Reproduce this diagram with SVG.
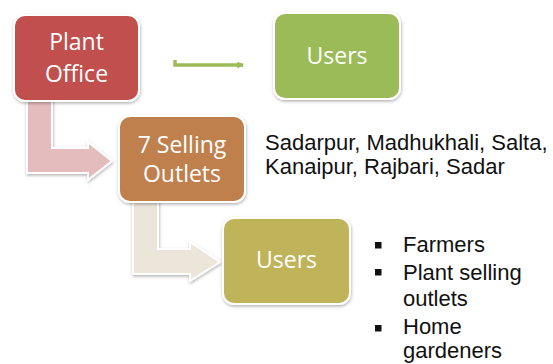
<svg xmlns="http://www.w3.org/2000/svg" width="553" height="364" viewBox="0 0 553 364">
  <defs>
    <filter id="shadow" x="-10%" y="-10%" width="125%" height="130%">
      <feDropShadow dx="0.5" dy="1.5" stdDeviation="1.5" flood-color="#000" flood-opacity="0.3"/>
    </filter>
    <marker id="head" viewBox="0 0 6 6" refX="5" refY="3" markerWidth="2" markerHeight="2" orient="auto" markerUnits="strokeWidth">
      <path d="M0 0 L6 3 L0 6 Z" fill="#9bbb59"/>
    </marker>
    <style>
      .box { stroke: #fff; stroke-width: 2; filter: url(#shadow); }
      .bend { stroke: #fff; stroke-width: 2; stroke-linejoin: miter; filter: url(#shadow); }
      .lbl { font-family: "Open Sans", "Noto Sans", sans-serif; font-size: 23px; fill: #fff; text-anchor: middle; }
      .note { font-family: "Liberation Sans", Arial, sans-serif; font-size: 22px; fill: #111; }
    </style>
  </defs>
  <rect width="553" height="364" fill="#fff"/>

  <g id="connectors">
    <!-- bent arrow: Plant Office to selling outlets -->
    <path class="bend" fill="#e5bcbd" d="M27 100 H52 V148 H88 V142 L112 161 L88 180 V173 H27 Z"/>
    <!-- bent arrow: selling outlets to users -->
    <path class="bend" fill="#ebe5da" d="M133 200 H158 V249 H190 V242 L220 262 L190 281 V274 H133 Z"/>
    <!-- thin arrow: Plant Office to users -->
    <path d="M175 60 V65 H243" fill="none" stroke="#9bbb59" stroke-width="3.5" marker-end="url(#head)"/>
  </g>

  <g id="plant-office">
    <rect class="box" x="14" y="15" width="125" height="86" rx="11" fill="#c0504d"/>
    <text class="lbl" x="76.5" y="50">Plant</text>
    <text class="lbl" x="76.5" y="82">Office</text>
  </g>

  <g id="users-top">
    <rect class="box" x="274" y="13" width="126" height="86" rx="11" fill="#9bbb59"/>
    <text class="lbl" x="337" y="64">Users</text>
  </g>

  <g id="selling-outlets">
    <rect class="box" x="119" y="116" width="126" height="86" rx="11" fill="#c0804d"/>
    <text class="lbl" x="182" y="153">7 Selling</text>
    <text class="lbl" x="182" y="182">Outlets</text>
  </g>

  <g id="users-bottom">
    <rect class="box" x="223" y="218" width="127" height="86" rx="11" fill="#c0b45a"/>
    <text class="lbl" x="286.5" y="268">Users</text>
  </g>

  <g id="outlet-names">
    <text class="note" x="265" y="150">Sadarpur, Madhukhali, Salta,</text>
    <text class="note" x="265" y="174">Kanaipur, Rajbari, Sadar</text>
  </g>

  <g id="user-list">
    <rect x="375" y="242" width="6.5" height="6.5" fill="#111"/>
    <rect x="375" y="269" width="6.5" height="6.5" fill="#111"/>
    <rect x="375" y="325" width="6.5" height="6.5" fill="#111"/>
    <text class="note" x="403" y="252">Farmers</text>
    <text class="note" x="403" y="280">Plant selling</text>
    <text class="note" x="403" y="306">outlets</text>
    <text class="note" x="403" y="334">Home</text>
    <text class="note" x="403" y="358">gardeners</text>
  </g>
</svg>
